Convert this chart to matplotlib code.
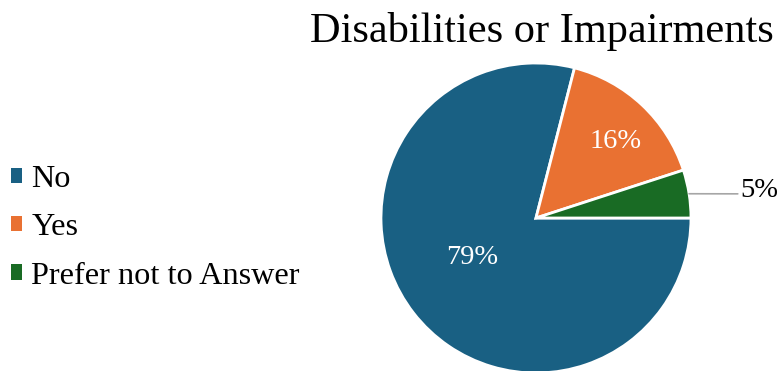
import numpy as np
import matplotlib.pyplot as plt
from matplotlib.patches import Patch

labels = ["No", "Yes", "Prefer not to Answer"]
values = [79, 16, 5]
colors = ["#196083", "#e97132", "#196b24"]

plt.rcParams['font.family'] = ['Liberation Serif', 'DejaVu Serif']

fig = plt.figure(figsize=(7.82, 3.71), dpi=100)
ax = fig.add_axes([0.4872, -0.0054, 0.3964, 0.8356])

wedges, _ = ax.pie(values, colors=colors, startangle=0, counterclock=False,
                   radius=1, wedgeprops=dict(edgecolor='white', linewidth=2))
for w in wedges:
    w.set_clip_on(False)
ax.set_aspect('auto')
ax.set_xlim(-1, 1)
ax.set_ylim(-1, 1)
ax.axis('off')

# data labels (radius, angle shift from wedge middle)
label_pos = [(0.485, -6.4), (0.71, -2.9), None]
for w, v, p in zip(wedges, values, label_pos):
    mid = (w.theta1 + w.theta2) / 2
    if p is not None:
        r, shift = p
        a = np.deg2rad(mid + shift)
        ax.text(r * np.cos(a), r * np.sin(a), f"{v}%", color='white',
                fontsize=20.5, ha='center', va='center')
    else:
        a = np.deg2rad(mid)
        ax.annotate(f"{v}%", xy=(np.cos(a), np.sin(a)), xytext=(1.32, 0.18),
                    fontsize=20.5, ha='left', va='center', color='black',
                    arrowprops=dict(arrowstyle='-', color='#a6a6a6', lw=1.2,
                                    shrinkA=0, shrinkB=0,
                                    relpos=(0, 0.35)),
                    annotation_clip=False)

fig.text(0.693, 0.967, "Disabilities or Impairments", fontsize=30.5,
         ha='center', va='top')

handles = [Patch(facecolor=c, edgecolor='none') for c in colors]
fig.legend(handles, labels, loc='center left', bbox_to_anchor=(-0.003, 0.386),
           frameon=False, fontsize=23.2, handlelength=0.36, handleheight=0.36,
           handletextpad=0.28, labelspacing=0.6, borderaxespad=0)

fig.savefig("out.png", dpi=100)
